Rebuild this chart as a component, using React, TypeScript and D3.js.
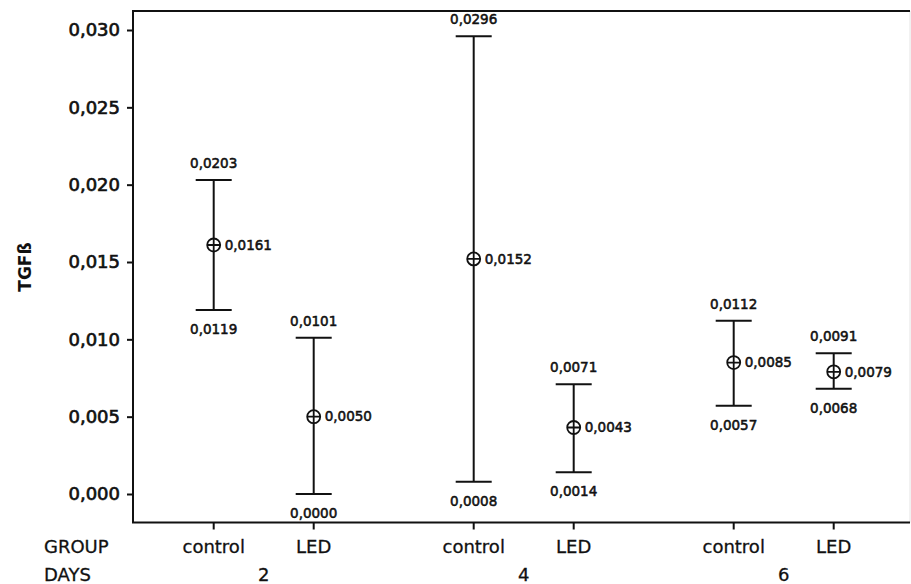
import React, { useEffect, useRef } from "react";
import * as d3 from "d3";

// Interval plot of TGFß by group and day (mean with CI)
const days = ["2", "4", "6"];
const groups = ["control", "LED"];
const means = [0.0161, 0.005, 0.0152, 0.0043, 0.0085, 0.0079];
const upper = [0.0203, 0.0101, 0.0296, 0.0071, 0.0112, 0.0091];
const lower = [0.0119, 0.0, 0.0008, 0.0014, 0.0057, 0.0068];
const yTicks = [0, 0.005, 0.01, 0.015, 0.02, 0.025, 0.03];

const fmt = (v: number, digits: number) => v.toFixed(digits).replace(".", ",");

const App = () => {
  const ref = useRef<SVGSVGElement>(null);

  useEffect(() => {
    const width = 911;
    const height = 584;
    const frame = { left: 133, top: 11, right: 910, bottom: 522.5 };
    const font = "DejaVu Sans, Verdana, sans-serif";

    const svg = d3.select(ref.current);
    svg.selectAll("*").remove();
    svg.attr("width", width).attr("height", height);

    const y = d3.scaleLinear().domain([0, 0.03]).range([494, 30]);
    // slot position: each day block is 2.6 slots wide, groups one slot apart
    const x = d3.scaleLinear().domain([0, 1]).range([213.7, 313.7]);
    const slot = (d: number, g: number) => d * 2.6 + g;

    const rows = days.flatMap((day, di) =>
      groups.map((grp, gi) => {
        const i = di * groups.length + gi;
        return { day, grp, cx: x(slot(di, gi)), mean: means[i], hi: upper[i], lo: lower[i] };
      })
    );

    // frame
    svg
      .append("line")
      .attr("x1", frame.right)
      .attr("x2", frame.right)
      .attr("y1", frame.top)
      .attr("y2", frame.bottom)
      .attr("stroke", "#e4e4e4")
      .attr("stroke-width", 1);
    svg
      .append("path")
      .attr("d", `M${frame.right},${frame.top}H${frame.left}V${frame.bottom}H${frame.right}`)
      .attr("fill", "none")
      .attr("stroke", "#111")
      .attr("stroke-width", 2);

    // y axis
    const yAxis = svg
      .append("g")
      .attr("transform", `translate(${frame.left},0)`)
      .call(d3.axisLeft(y).tickValues(yTicks).tickSize(6).tickPadding(7).tickFormat((d) => fmt(+d, 3)));
    yAxis.select(".domain").remove();
    yAxis.selectAll("line").attr("stroke", "#111").attr("stroke-width", 2);
    yAxis
      .selectAll("text")
      .attr("font-family", font)
      .attr("font-size", 18)
      .attr("fill", "#111")
      .attr("stroke", "#111")
      .attr("stroke-width", 0.7);

    // x ticks + group labels
    const xg = svg.append("g");
    const bigText = (sel: any) =>
      sel.attr("font-family", font).attr("font-size", 18).attr("fill", "#111").attr("stroke", "#111").attr("stroke-width", 0.3);
    rows.forEach((r) => {
      xg.append("line")
        .attr("x1", r.cx)
        .attr("x2", r.cx)
        .attr("y1", frame.bottom)
        .attr("y2", frame.bottom + 7)
        .attr("stroke", "#111")
        .attr("stroke-width", 2);
      xg.append("text")
        .attr("x", r.cx)
        .attr("y", 553)
        .attr("text-anchor", "middle")
        .call(bigText)
        .text(r.grp);
    });
    days.forEach((day, di) => {
      xg.append("text")
        .attr("x", (x(slot(di, 0)) + x(slot(di, groups.length - 1))) / 2)
        .attr("y", 581)
        .attr("text-anchor", "middle")
        .call(bigText)
        .text(day);
    });
    xg.append("text").attr("x", 44).attr("y", 553).call(bigText).text("GROUP");
    xg.append("text").attr("x", 44).attr("y", 581).call(bigText).text("DAYS");

    // y title
    svg
      .append("text")
      .attr("transform", `translate(31,267) rotate(-90)`)
      .attr("text-anchor", "middle")
      .attr("font-family", font)
      .attr("font-weight", "bold")
      .attr("font-size", 17)
      .attr("fill", "#111")
      .text("TGFß");

    // intervals
    const cap = 18;
    const g = svg.selectAll(".ci").data(rows).enter().append("g").attr("class", "ci");
    g.append("line")
      .attr("x1", (d) => d.cx)
      .attr("x2", (d) => d.cx)
      .attr("y1", (d) => y(d.hi))
      .attr("y2", (d) => y(d.lo))
      .attr("stroke", "#111")
      .attr("stroke-width", 2);
    ["hi", "lo"].forEach((k) => {
      g.append("line")
        .attr("x1", (d) => d.cx - cap)
        .attr("x2", (d) => d.cx + cap)
        .attr("y1", (d) => y((d as any)[k]))
        .attr("y2", (d) => y((d as any)[k]))
        .attr("stroke", "#111")
        .attr("stroke-width", 2);
    });
    g.append("circle")
      .attr("cx", (d) => d.cx)
      .attr("cy", (d) => y(d.mean))
      .attr("r", 6.5)
      .attr("fill", "white")
      .attr("stroke", "#111")
      .attr("stroke-width", 1.8);
    g.append("path")
      .attr("d", (d) => `M${d.cx - 6.5},${y(d.mean)}H${d.cx + 6.5}M${d.cx},${y(d.mean) - 6.5}V${y(d.mean) + 6.5}`)
      .attr("stroke", "#111")
      .attr("stroke-width", 1.8);

    const label = (sel: any) =>
      sel.attr("font-family", font).attr("font-size", 13.5).attr("fill", "#111").attr("stroke", "#111").attr("stroke-width", 0.55);
    g.append("text")
      .attr("x", (d) => d.cx)
      .attr("y", (d) => y(d.hi) - 12)
      .attr("text-anchor", "middle")
      .call(label)
      .text((d) => fmt(d.hi, 4));
    g.append("text")
      .attr("x", (d) => d.cx)
      .attr("y", (d) => y(d.lo) + 24)
      .attr("text-anchor", "middle")
      .call(label)
      .text((d) => fmt(d.lo, 4));
    g.append("text")
      .attr("x", (d) => d.cx + 11)
      .attr("y", (d) => y(d.mean))
      .attr("dy", "0.35em")
      .call(label)
      .text((d) => fmt(d.mean, 4));
  }, []);

  return <svg ref={ref} style={{ position: "absolute", left: 0, top: 0, display: "block" }}></svg>;
};

export default App;
